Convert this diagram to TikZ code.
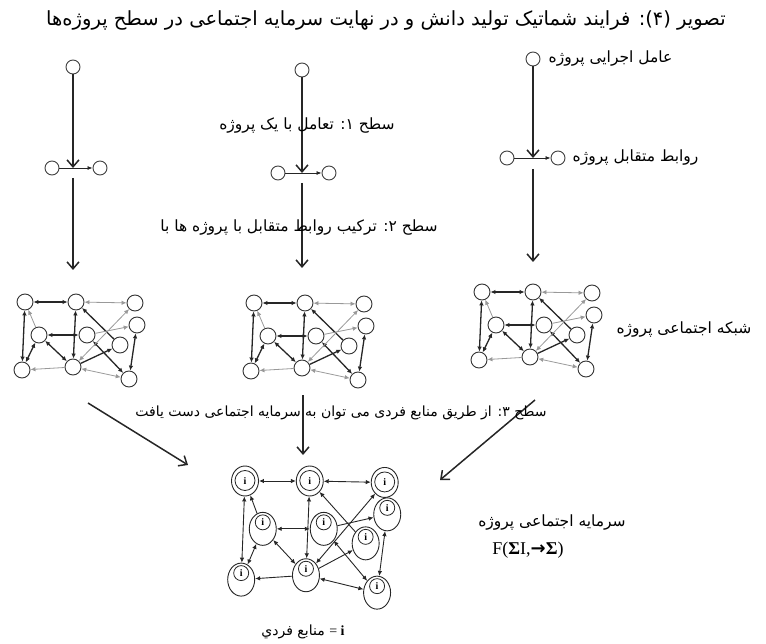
\documentclass[tikz,border=0pt]{standalone}
\usepackage{fontspec}
\setmainfont{Liberation Serif}
\newfontfamily\arabicfont[Script=Arabic]{DejaVu Sans}
\newfontfamily\symbolfont{DejaVu Sans}
\TeXXeTstate=1
\usepackage{tikz}
\usetikzlibrary{positioning, arrows.meta, shapes.geometric}

\tikzstyle{flowNode}=[draw=black!75,circle,minimum size=14pt,inner sep=0pt,line width=0.9pt]
\tikzstyle{netNode}=[draw=black!80,circle,minimum size=16pt,inner sep=0pt,line width=0.9pt]
\tikzstyle{capitalNode}=[draw=black!85,ellipse,minimum width=27pt,minimum height=33pt,inner sep=0pt,line width=0.9pt,
	font=\bfseries\fontsize{10}{10}\selectfont,text height=6.5pt,text depth=13pt,
	path picture={\draw[line width=0.8pt] ([yshift=6.5pt]path picture bounding box.center) circle (7.5pt);}]
\tikzstyle{capitalTop}=[draw=black!85,ellipse,minimum width=27pt,minimum height=30pt,inner sep=0pt,line width=0.9pt,
	font=\bfseries\fontsize{10}{10}\selectfont,
	path picture={\draw[line width=0.8pt] ([yshift=0.5pt]path picture bounding box.center) circle (10pt);}]
\tikzstyle{flowArrow}=[-{Straight Barb[length=7pt,width=12pt]}, line width=1.5pt, black!85]
\tikzstyle{pairLink}=[-{Latex[length=5pt,width=4pt]}, line width=0.8pt, black!85]
\tikzstyle{labelText}=[font=\arabicfont\fontsize{15.5}{18}\selectfont, inner sep=1pt]
\tikzstyle{titleText}=[font=\arabicfont\fontsize{19.5}{22}\selectfont, inner sep=1pt]

\tikzset{
	netTop/.style={netNode},
	netBody/.style={netNode},
	strongEdge/.style={draw=black!85, line width=1.3pt, >={Latex[length=5pt,width=4.5pt]}},
	weakEdge/.style={draw=black!40, line width=0.8pt, >={Latex[length=5pt,width=4.5pt]}},
	socialNet/.pic={
		\node[netTop] (-a) at (0,0) {\netLetter};
		\node[netTop] (-b) at (51,0) {\netLetter};
		\node[netTop] (-c) at (110,1) {\netLetter};
		\node[netBody] (-d) at (112,23) {\netLetter};
		\node[netBody] (-e) at (14,33) {\netLetter};
		\node[netBody] (-f) at (62,33) {\netLetter};
		\node[netBody] (-g) at (95,43) {\netLetter};
		\node[netBody] (-h) at (-3,68) {\netLetter};
		\node[netBody] (-i) at (48,65) {\netLetter};
		\node[netBody] (-j) at (104,77) {\netLetter};

		\draw[strongEdge, <->] (-a) -- (-b);
		\draw[strongEdge, <->] (-a) -- (-h);
		\draw[strongEdge, <->] (-e) -- (-h);
		\draw[strongEdge, <->] (-e) -- (-f);
		\draw[strongEdge, <->] (-b) -- (-i);
		\draw[strongEdge, <->] (-e) -- (-i);
		\draw[strongEdge, <->] (-f) -- (-j);
		\draw[strongEdge, <->] (-d) -- (-j);
		\draw[strongEdge, ->] (-g) -- (-b);
		\draw[strongEdge, ->] (-i) -- (-g);

		\draw[weakEdge, <->] (-b) -- (-c);
		\draw[weakEdge, <->] (-c) -- (-i);
		\draw[weakEdge, <->] (-i) -- (-j);
		\draw[weakEdge, ->] (-e) -- (-a);
		\draw[weakEdge, ->] (-f) -- (-d);
		\draw[weakEdge, ->] (-i) -- (-h);
	}
}
\newcommand{\netLetter}{}

\begin{document}
\begin{tikzpicture}[x=1pt,y=-1pt]
	\useasboundingbox (0,0) rectangle (766,644);

	\node[titleText] (title) at (386,20) {\beginR تصویر (۴): فرایند شماتیک تولید دانش و در نهایت سرمایه اجتماعی در سطح پروژه‌ها\endR};

	% actors and their relations
	\node[flowNode] (t1) at (73,67) {};
	\node[flowNode] (t2) at (302,70) {};
	\node[flowNode] (t3) at (533,59) {};

	\node[flowNode] (p1a) at (52,168) {};
	\node[flowNode] (p1b) at (100,168) {};
	\node[flowNode] (p2a) at (278,173) {};
	\node[flowNode] (p2b) at (329,173) {};
	\node[flowNode] (p3a) at (507,158) {};
	\node[flowNode] (p3b) at (558,158) {};

	\draw[pairLink] (p1a) -- (p1b);
	\draw[pairLink] (p2a) -- (p2b);
	\draw[pairLink] (p3a) -- (p3b);

	\coordinate (j1) at (73,168);
	\coordinate (j2) at (302,173);
	\coordinate (j3) at (533,158);
	\draw[flowArrow] (t1) -- (j1);
	\draw[flowArrow] (t2) -- (j2);
	\draw[flowArrow] (t3) -- (j3);

	\coordinate (s1) at (73,178);
	\coordinate (e1) at (73,270);
	\coordinate (s2) at (302,183);
	\coordinate (e2) at (302,268);
	\coordinate (s3) at (533,169);
	\coordinate (e3) at (533,262);
	\draw[flowArrow] (s1) -- (e1);
	\draw[flowArrow] (s2) -- (e2);
	\draw[flowArrow] (s3) -- (e3);

	% project networks
	\pic (net1) at (25,302) {socialNet};
	\pic (net2) at (254,303) {socialNet};
	\pic (net3) at (482,292) {socialNet};

	\coordinate (s4) at (88,403);
	\coordinate (e4) at (188,465);
	\coordinate (s5) at (303,395);
	\coordinate (e5) at (303,455);
	\coordinate (s6) at (535,400);
	\coordinate (e6) at (440,480);
	\draw[flowArrow] (s4) -- (e4);
	\draw[flowArrow] (s5) -- (e5);
	\draw[flowArrow] (s6) -- (e6);

	% social capital
	\renewcommand{\netLetter}{i}
	\pic[x=1.27pt, y=-1.45pt, netTop/.style={capitalTop}, netBody/.style={capitalNode},
		strongEdge/.style={draw=black!85, line width=0.9pt, >={Latex[length=5pt,width=4.5pt]}},
		weakEdge/.style={strongEdge}] (capital) at (245pt,-481pt) {socialNet};

	\node[labelText, right=7pt of t3] (actorLabel) {\beginR عامل اجرایی پروژه\endR};
	\node[labelText] (level1Label) at (307,126) {\beginR سطح ۱: تعامل با یک  پروژه\endR};
	\node[labelText, right=6pt of p3b] (relationLabel) {\beginR روابط متقابل  پروژه\endR};
	\node[labelText] (level2Label) at (299,228) {\beginR سطح ۲: ترکیب روابط متقابل با پروژه ها با\endR};
	\node[labelText] (networkLabel) at (684,330) {\beginR شبکه اجتماعی  پروژه\endR};
	\node[labelText, font=\arabicfont\fontsize{14}{16}\selectfont] (level3Label) at (341,413) {\beginR سطح ۳: از طریق منابع فردی می توان به سرمایه اجتماعی دست یافت\endR};
	\node[labelText] (capitalLabel) at (552,523) {\beginR سرمایه اجتماعی  پروژه\endR};
	\node[font=\fontsize{18}{20}\selectfont] (formulaLabel) at (528,550) {F(\textbf{Σ}I,{\symbolfont\bfseries →}\textbf{Σ})};
	\node[labelText, font=\arabicfont\fontsize{14}{16}\selectfont] (legendLabel) at (303,632) {\beginR منابع فردي\endR{} {\rmfamily = \textbf{i}}};
\end{tikzpicture}
\end{document}
